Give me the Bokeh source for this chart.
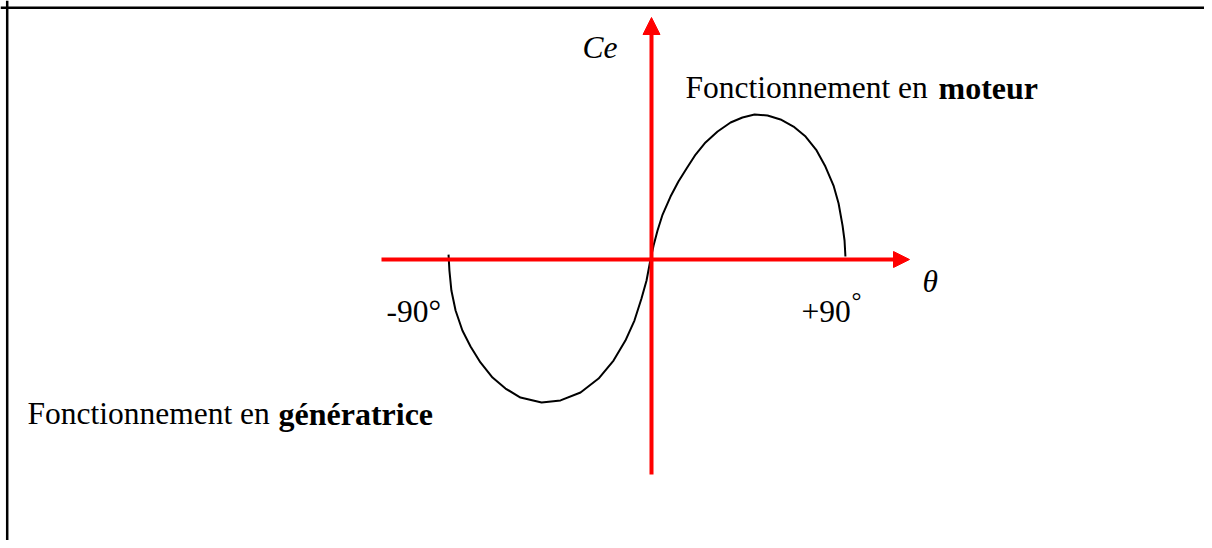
from bokeh.plotting import figure
from bokeh.models import Range1d, Span, Arrow, NormalHead
from bokeh.core.properties import value
from bokeh.embed import file_html
from bokeh.resources import INLINE

# ---- data ----
theta_deg = [-91.8, -91.4, -90.5, -88.6, -85.5, -81.8, -77.3, -71.8, -65.9, -59.1, -49.5,
             -40.9, -31.8, -23.6, -16.8, -11.4, -7.3, -4.1, -1.8, 0.0,
             1.4, 3.2, 5.5, 9.1, 12.7, 16.4, 20.5, 25.0, 30.5, 36.4, 41.8, 47.3,
             53.2, 59.1, 65.0, 70.5, 75.5, 79.5, 83.2, 85.5, 87.3, 88.2, 88.6]
ce = [0.034, -0.076, -0.214, -0.352, -0.490, -0.600, -0.710, -0.814, -0.890, -0.952, -0.986,
      -0.972, -0.917, -0.821, -0.697, -0.559, -0.421, -0.269, -0.145, 0.0,
      0.097, 0.200, 0.310, 0.434, 0.538, 0.628, 0.724, 0.807, 0.883, 0.945, 0.979, 1.0,
      0.993, 0.966, 0.917, 0.848, 0.752, 0.641, 0.510, 0.386, 0.234, 0.131, 0.021]
axis_names = ["Ce", "θ"]
tick_labels = ["-90°", "+90"]
tick_degree = ["°"]
mode_prefix = "Fonctionnement en"
modes = ["moteur", "génératrice"]

# ---- layout helpers (canvas pixel -> data) ----
PX_PER_DEG = 2.2
PX_PER_CE = 145.0
OX, OY = 650.0, 259.0


def X(px):
    return (px - OX) / PX_PER_DEG


def Y(py):
    return (OY - py) / PX_PER_CE


W, H = 1204, 540
p = figure(width=W, height=H, output_backend="svg", toolbar_location=None,
           x_axis_type=None, y_axis_type=None, min_border=0,
           x_range=Range1d(X(0), X(W)), y_range=Range1d(Y(H), Y(0)))
p.outline_line_color = None
p.background_fill_color = "white"
p.border_fill_color = "white"
p.grid.visible = False

# frame border (top and left)
p.add_layout(Span(location=Y(7.3), dimension="width", line_color="black", line_width=2.5))
p.add_layout(Span(location=X(6.7), dimension="height", line_color="black", line_width=2.5))

# red axes with arrows
red = "#ff0000"
p.add_layout(Arrow(x_start=X(381), y_start=0, x_end=X(909), y_end=0,
                   line_color=red, line_width=4,
                   end=NormalHead(size=16, fill_color=red, line_color=red, line_width=1)))
p.add_layout(Arrow(x_start=X(651), y_start=Y(474), x_end=X(651), y_end=Y(17),
                   line_color=red, line_width=4,
                   end=NormalHead(size=17, fill_color=red, line_color=red, line_width=1)))

# curve
p.line(theta_deg, ce, line_color="black", line_width=2)

font = value("Liberation Serif")
fs = "31.5px"
DY = 10  # baseline correction

# axis names (italic)
p.text(x=[X(582), X(922)], y=[Y(57 - DY), Y(291 - DY)], text=axis_names, text_font=font,
       text_font_size=fs, text_font_style="italic", text_color="black",
       text_align="left", text_baseline="alphabetic")

# tick labels
p.text(x=[X(386), X(801)], y=[Y(321 - DY), Y(321 - DY)], text=tick_labels, text_font=font,
       text_font_size=fs, text_color="black", text_align="left", text_baseline="alphabetic")
p.text(x=[X(851)], y=[Y(300)], text=tick_degree, text_font=font,
       text_font_size="25px", text_color="black", text_align="left", text_baseline="alphabetic")

# mode annotations
p.text(x=[X(685), X(27)], y=[Y(97 - DY), Y(423 - DY)], text=[mode_prefix, mode_prefix],
       text_font=font, text_font_size=fs, text_color="black",
       text_align="left", text_baseline="alphabetic")
p.text(x=[X(938), X(278)], y=[Y(97 - DY), Y(423 - DY)], text=modes, text_font=font,
       text_font_size="32px", text_font_style="bold", text_color="black",
       text_align="left", text_baseline="alphabetic")

open("out.html", "w").write(file_html(p, INLINE))
